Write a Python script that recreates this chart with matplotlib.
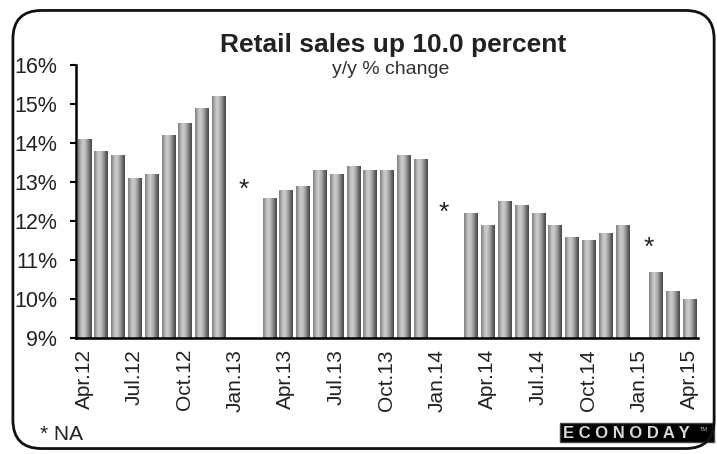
import matplotlib
matplotlib.use("Agg")
import matplotlib.pyplot as plt
import numpy as np
from matplotlib.patches import FancyBboxPatch, Rectangle

plt.rcParams['font.family'] = ['Liberation Sans', 'DejaVu Sans']

# monthly y/y % change, Apr.12 .. Apr.15 (None = not available)
months = ["Apr.12", "May.12", "Jun.12", "Jul.12", "Aug.12", "Sep.12", "Oct.12", "Nov.12", "Dec.12",
          "Jan.13", "Feb.13", "Mar.13", "Apr.13", "May.13", "Jun.13", "Jul.13", "Aug.13", "Sep.13",
          "Oct.13", "Nov.13", "Dec.13", "Jan.14", "Feb.14", "Mar.14", "Apr.14", "May.14", "Jun.14",
          "Jul.14", "Aug.14", "Sep.14", "Oct.14", "Nov.14", "Dec.14", "Jan.15", "Feb.15", "Mar.15",
          "Apr.15"]
values = [14.1, 13.8, 13.7, 13.1, 13.2, 14.2, 14.5, 14.9, 15.2,
          None, None, 12.6, 12.8, 12.9, 13.3, 13.2, 13.4, 13.3,
          13.3, 13.7, 13.6, None, None, 12.2, 11.9, 12.5, 12.4,
          12.2, 11.9, 11.6, 11.5, 11.7, 11.9, None, 10.7, 10.2,
          10.0]
# where the "*" markers sit (month index, level)
na_pos = [9.5, 21.4, 33.6]
na_level = [12.8, 12.2, 11.3]

y_ticks = [9, 10, 11, 12, 13, 14, 15, 16]

fig = plt.figure(figsize=(7.17, 4.54), dpi=100)
ax = fig.add_axes([0.106, 0.2555, 0.8675, 0.6015])

x = np.arange(len(months))
base = 9
width = 0.78

# horizontal gray gradient for the cylinder look
grad = np.array([[0.52, 0.66, 0.77, 0.80, 0.75, 0.66, 0.55, 0.42, 0.30]])

for xi, v in zip(x, values):
    if v is None:
        continue
    bar = ax.bar(xi, v - base, bottom=base, width=width, color='none', edgecolor='none')[0]
    im = ax.imshow(grad, cmap='gray', vmin=0, vmax=1, aspect='auto',
                   extent=(xi - width / 2, xi + width / 2, base, v), interpolation='bicubic', zorder=2)
    im.set_clip_path(bar)

for px, py in zip(na_pos, na_level):
    ax.text(px, py, "*", ha='center', va='center', fontsize=19, color='#222222')

ax.set_xlim(-0.48, 36.5)
ax.set_ylim(9, 16)
ax.set_yticks(y_ticks)
ax.set_yticklabels([f"{t}%" for t in y_ticks], fontsize=15.5, color='#222222')
ax.set_xticks(x[::3])
ax.set_xticklabels(months[::3], rotation=90, fontsize=15, color='#222222')
ax.tick_params(axis='x', length=0, pad=8)
ax.tick_params(axis='y', length=4, width=1.5, direction='out', pad=9.5)
for s in ['top', 'right']:
    ax.spines[s].set_visible(False)
ax.spines['left'].set_linewidth(1.8)
ax.spines['bottom'].set_linewidth(1.8)

fig.text(0.548, 0.9, "Retail sales up 10.0 percent", ha='center', va='center',
         fontsize=19, fontweight='bold', color='#222222')
fig.text(0.545, 0.848, "y/y % change", ha='center', va='center', fontsize=14, color='#333333')
fig.text(0.056, 0.042, "* NA", ha='left', va='center', fontsize=15, color='#222222')

# ECONODAY logo
fig.patches.append(Rectangle((0.781, 0.026), 0.215, 0.042, transform=fig.transFigure,
                             facecolor='black', edgecolor='#444444', linewidth=1))
fig.text(0.874, 0.046, "E C O N O D A Y", ha='center', va='center', fontsize=12,
         color='#d8d8d8', fontweight='bold')
fig.text(0.982, 0.054, "TM", ha='center', va='center', fontsize=4, color='#bbbbbb')

# rounded frame
frame = FancyBboxPatch((0.018, 0.012), 0.978, 0.965, boxstyle='round,pad=0,rounding_size=0.04',
                       transform=fig.transFigure, facecolor='none', edgecolor='#111111', linewidth=2,
                       mutation_aspect=717 / 454)
fig.patches.append(frame)

fig.savefig("out.png", dpi=100)
